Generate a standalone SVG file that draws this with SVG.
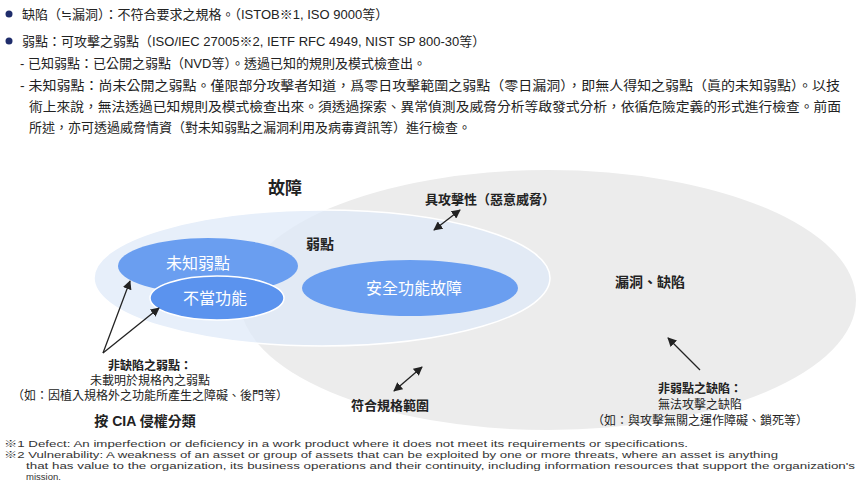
<svg xmlns="http://www.w3.org/2000/svg" width="857" height="484" viewBox="0 0 857 484">
<defs>
<marker id="ah" viewBox="0 0 10 10" refX="9" refY="5" markerWidth="7" markerHeight="7" orient="auto-start-reverse"><path d="M0,0 L10,5 L0,10 z" fill="#222"/></marker>
<style>
text{font-family:"Liberation Sans","Noto Sans CJK TC",sans-serif;fill:#222}
.t{font-size:13px}
.b{font-weight:bold}
.w{fill:#fff;font-size:16px;text-anchor:middle}
.m{text-anchor:middle}
.s{font-size:12px}
.f{font-size:9.5px;fill:#333}
.ln{stroke:#222;stroke-width:1.3;fill:none;marker-end:url(#ah)}
</style>
</defs>
<rect width="857" height="484" fill="#fff"/>
<g id="intro">
<circle cx="9" cy="14" r="3.5" fill="#1f2d6b"/><text class="t" x="22" y="19">缺陷（≒漏洞）：不符合要求之規格。（ISTOB※1, ISO 9000等）</text>
<circle cx="9" cy="41" r="3.5" fill="#1f2d6b"/><text class="t" x="22" y="46">弱點：可攻擊之弱點（ISO/IEC 27005※2, IETF RFC 4949, NIST SP 800-30等）</text>
<text class="t" x="20" y="68">- 已知弱點：已公開之弱點（NVD等）。透過已知的規則及模式檢查出。</text>
<text class="t" x="20" y="90" textLength="820" lengthAdjust="spacingAndGlyphs">- 未知弱點：尚未公開之弱點。僅限部分攻擊者知道，爲零日攻擊範圍之弱點（零日漏洞），即無人得知之弱點（眞的未知弱點）。以技</text>
<text class="t" x="29" y="111" textLength="812" lengthAdjust="spacingAndGlyphs">術上來說，無法透過已知規則及模式檢查出來。須透過探索、異常偵測及威脅分析等啟發式分析，依循危險定義的形式進行檢查。前面</text>
<text class="t" x="29" y="132">所述，亦可透過威脅情資（對未知弱點之漏洞利用及病毒資訊等）進行檢查。</text>
</g>
<g id="gray"><ellipse cx="548" cy="300" rx="308" ry="130" fill="#ececec"/></g>
<g id="weak"><ellipse cx="322" cy="278" rx="228" ry="68" fill="#dfe9f8" fill-opacity="0.75" stroke="#fff" stroke-width="1.5"/></g>
<g id="unknown"><ellipse cx="208" cy="266" rx="90" ry="28" fill="#6a9ef0"/><text class="w" x="198" y="269">未知弱點</text></g>
<g id="improper"><ellipse cx="217" cy="298" rx="67" ry="22" fill="#5b93ee" stroke="#fff" stroke-width="1.5"/><text class="w" x="215" y="304">不當功能</text></g>
<g id="secfail"><ellipse cx="410" cy="288" rx="108" ry="28" fill="#6a9ef0"/><text class="w" x="414" y="294">安全功能故障</text></g>
<g id="labels">
<text class="b m" x="285" y="194" style="font-size:17px">故障</text>
<text class="b m" x="320" y="249" style="font-size:14px">弱點</text>
<text class="b m" x="490" y="204" style="font-size:13px">具攻擊性（惡意威脅）</text>
<text class="b m" x="650" y="287" style="font-size:14px">漏洞、缺陷</text>
<text class="b m" x="390" y="410" style="font-size:13px">符合規格範圍</text>
<text class="b m s" x="150" y="370">非缺陷之弱點：</text>
<text class="m s" x="150" y="385">未載明於規格內之弱點</text>
<text class="m s" x="150" y="400">（如：因植入規格外之功能所產生之障礙、後門等）</text>
<text class="b m" x="145" y="426" style="font-size:14px">按 CIA 侵權分類</text>
<text class="b m s" x="700" y="393">非弱點之缺陷：</text>
<text class="m s" x="700" y="409">無法攻擊之缺陷</text>
<text class="m s" x="700" y="425">（如：與攻擊無關之運作障礙、鎖死等）</text>
</g>
<g id="connectors">
<path class="ln" d="M103,353 L130,281"/>
<path class="ln" d="M103,353 L159,308"/>
<path class="ln" d="M434,230 L460,210" style="marker-start:url(#ah)"/>
<path class="ln" d="M394,391 L422,367" style="marker-start:url(#ah)"/>
<path class="ln" d="M700,370 L668,338"/>
</g>
<g id="notes">
<text class="f" x="4" y="447" textLength="684" lengthAdjust="spacingAndGlyphs">※1  Defect: An imperfection or deficiency in a work product where it does not meet its requirements or specifications.</text>
<text class="f" x="4" y="458" textLength="774" lengthAdjust="spacingAndGlyphs">※2  Vulnerability: A weakness of an asset or group of assets that can be exploited by one or more threats, where an asset is anything</text>
<text class="f" x="26" y="469" textLength="829" lengthAdjust="spacingAndGlyphs">that has value to the organization, its business operations and their continuity, including information resources that support the organization's</text>
<text class="f" x="26" y="480">mission.</text>
</g>
</svg>
